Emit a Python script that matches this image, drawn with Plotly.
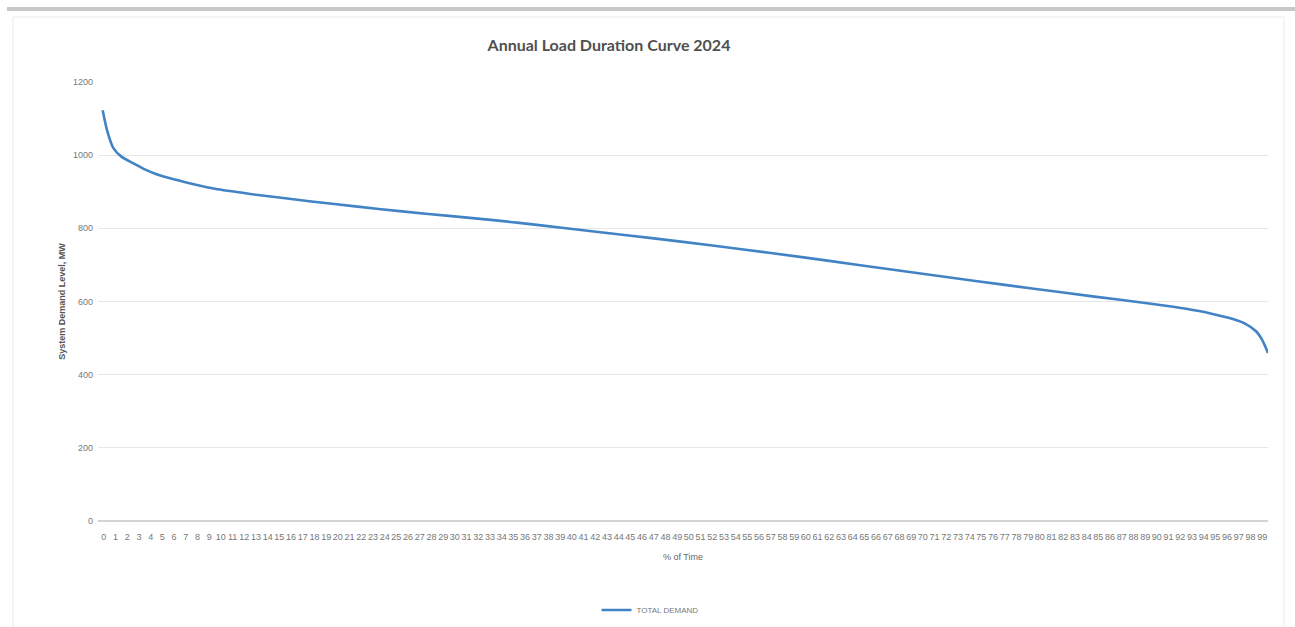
import plotly.graph_objects as go

# Load duration curve: share of the year (%) against system demand (MW)
time_pct = [0.4, 0.8, 1.3, 2, 3, 4, 5, 6, 8, 10, 13, 16, 20, 24, 28, 32, 36, 40,
            45, 50, 55, 60, 65, 70, 75, 80, 85, 90, 93, 95, 97, 98, 99, 99.5, 100]
demand_mw = [1123, 1065, 1020, 996, 978, 961, 948, 938, 922, 908, 894, 882, 867,
             853, 840, 828, 815, 800, 782, 763, 743, 722, 700, 678, 656, 635,
             614, 594, 580, 568, 552, 540, 518, 495, 459]

# Category labels 0..99 along the time axis
x_labels = [str(k) for k in range(100)]
x_label_pos = [k + 0.5 for k in range(100)]
y_ticks = [0, 200, 400, 600, 800, 1000, 1200]

W, H = 1295, 627
L, R, T, B = 98, 1268, 82, 521

NARROW = "Liberation Sans Narrow, Liberation Sans"


def px(x):
    return (x - L) / (R - L)


def py(y):
    return (B - y) / (B - T)


fig = go.Figure()
fig.add_trace(go.Scatter(
    x=time_pct, y=demand_mw, mode="lines", name="TOTAL DEMAND",
    line=dict(color="#4283c6", width=2.6, shape="spline", smoothing=0.8),
))

fig.update_layout(
    width=W, height=H, autosize=False,
    margin=dict(l=L, r=W - R, t=T, b=H - B, autoexpand=False),
    paper_bgcolor="white", plot_bgcolor="white",
    title=dict(text="Annual Load Duration Curve 2024", x=609 / W, xanchor="center",
               y=1 - 45 / H, yanchor="middle",
               font=dict(family="Lato", size=16, color="#505050", weight="bold")),
    showlegend=True,
    legend=dict(orientation="h", xref="container", x=650 / W, xanchor="center",
                yref="container", y=1 - 610 / H, yanchor="middle",
                font=dict(family=NARROW, size=8, color="#7a7a7a"),
                itemwidth=30, bgcolor="rgba(0,0,0,0)"),
    xaxis=dict(range=[0, 100], tickmode="array", tickvals=x_label_pos, ticktext=x_labels,
               tickangle=0, showgrid=False, zeroline=False, showline=False, ticks="",
               ticklabelstandoff=9, automargin=False,
               tickfont=dict(family=NARROW, size=9, color="#777777"),
               title=dict(text="% of Time", standoff=12,
                          font=dict(family=NARROW, size=9, color="#666666"))),
    yaxis=dict(range=[0, 1200], tickmode="array", tickvals=y_ticks, tickformat="d",
               showgrid=True, gridcolor="#e6e6e6", gridwidth=1, zeroline=True,
               zerolinecolor="#d4d4d4", zerolinewidth=1.5, showline=False, ticks="",
               ticklabelstandoff=4, automargin=False,
               tickfont=dict(family=NARROW, size=9, color="#777777"),
               title=dict(text="System Demand Level, MW", standoff=5,
                          font=dict(family=NARROW, size=9, color="#555555", weight="bold"))),
    shapes=[
        dict(type="rect", xref="paper", yref="paper", x0=px(7), x1=px(1296), y0=py(7), y1=py(11),
             fillcolor="#c8c8c8", line=dict(width=0), layer="below"),
        dict(type="rect", xref="paper", yref="paper", x0=px(13), x1=px(1284), y0=py(17), y1=py(640),
             fillcolor="rgba(0,0,0,0)", line=dict(color="#ebebeb", width=1), layer="below"),
    ],
)

fig.write_html("out.html")
